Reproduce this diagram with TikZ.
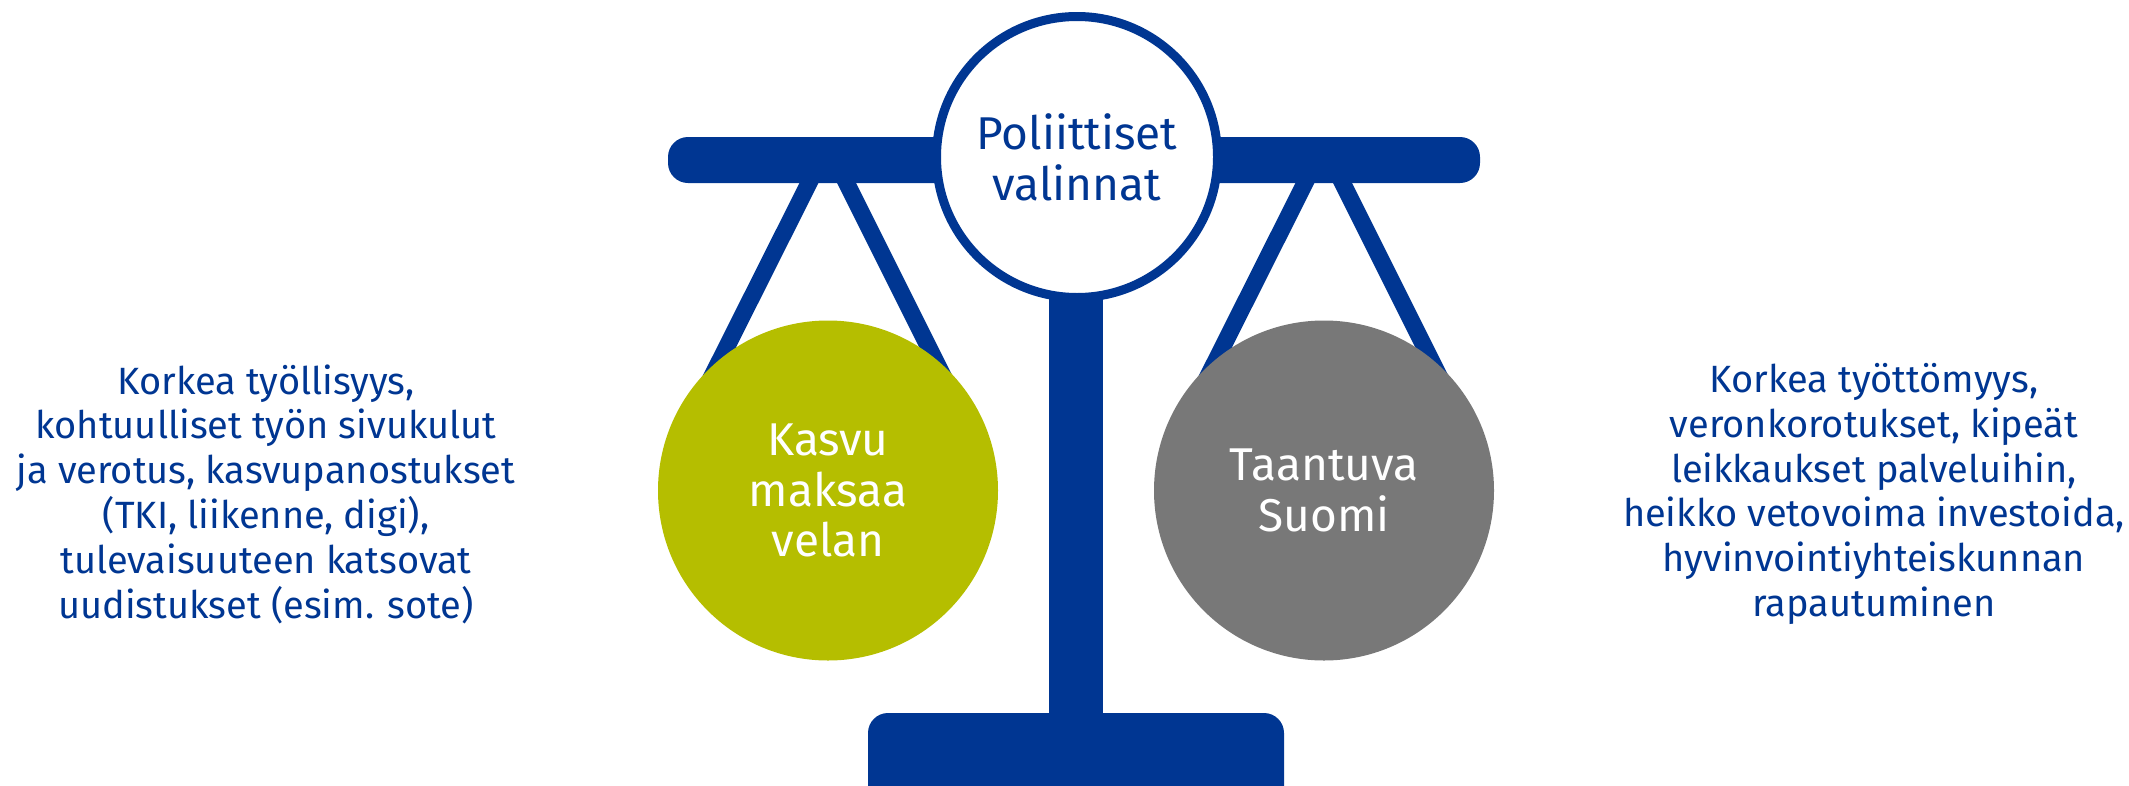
\documentclass[tikz,border=0pt]{standalone}
\usepackage{fontspec}
\setmainfont{Fira Sans}
\usetikzlibrary{positioning}
\definecolor{scaleblue}{RGB}{0,54,146}
\definecolor{growgreen}{RGB}{181,190,0}
\definecolor{declinegray}{RGB}{120,120,120}
\tikzstyle{hubnode} = [circle, minimum size=281pt, inner sep=0pt, draw=scaleblue, line width=9pt, fill=white, text=scaleblue, align=center, font=\fontsize{46}{51}\selectfont]
\tikzstyle{pannode} = [circle, minimum size=340pt, inner sep=0pt, text=white, align=center, font=\fontsize{46}{50.5}\selectfont]
\tikzstyle{sidetext} = [inner sep=0pt, text=scaleblue, align=center, font=\fontsize{38}{44.8}\selectfont]
\tikzstyle{strut} = [draw=scaleblue, line width=17pt]
\tikzstyle{bar} = [fill=scaleblue, rounded corners=20pt]

\begin{document}
\begin{tikzpicture}[x=1pt, y=-1pt]
        \clip (0,0) rectangle (2129,785);
        % hangers
        \coordinate (lpa) at (818,165);
        \coordinate (lpb) at (690,420);
        \coordinate (lqa) at (837.5,165);
        \coordinate (lqb) at (965,420);
        \coordinate (rpa) at (1314,165);
        \coordinate (rpb) at (1186,420);
        \coordinate (rqa) at (1333.5,165);
        \coordinate (rqb) at (1461,420);
        \draw [strut] (lpa) -- (lpb);
        \draw [strut] (lqa) -- (lqb);
        \draw [strut] (rpa) -- (rpb);
        \draw [strut] (rqa) -- (rqb);
        % post, beam
        \fill [scaleblue] (1049,250) rectangle (1103,730);
        \fill [bar] (668,137) rectangle (1480,183);
        \fill [bar] (868,713) rectangle (1284,840);

        \node (hub) [hubnode] at (1077,157) {Poliittiset\\valinnat};
        \node (grow) [pannode, fill=growgreen] at (828,490.5) {Kasvu\\maksaa\\velan};
        \node (decline) [pannode, fill=declinegray] at (1324,490.5) {Taantuva\\Suomi};

        \node (lefttext) [sidetext] at (266,494) {Korkea työllisyys,\\kohtuulliset työn sivukulut\\ja verotus, kasvupanostukset\\(TKI, liikenne, digi),\\tulevaisuuteen katsovat\\uudistukset (esim. sote)};
        \node (righttext) [sidetext] at (1874,494) {Korkea työttömyys,\\veronkorotukset, kipeät\\leikkaukset palveluihin,\\heikko vetovoima investoida,\\hyvinvointiyhteiskunnan\\rapautuminen};
    \end{tikzpicture}
\end{document}
